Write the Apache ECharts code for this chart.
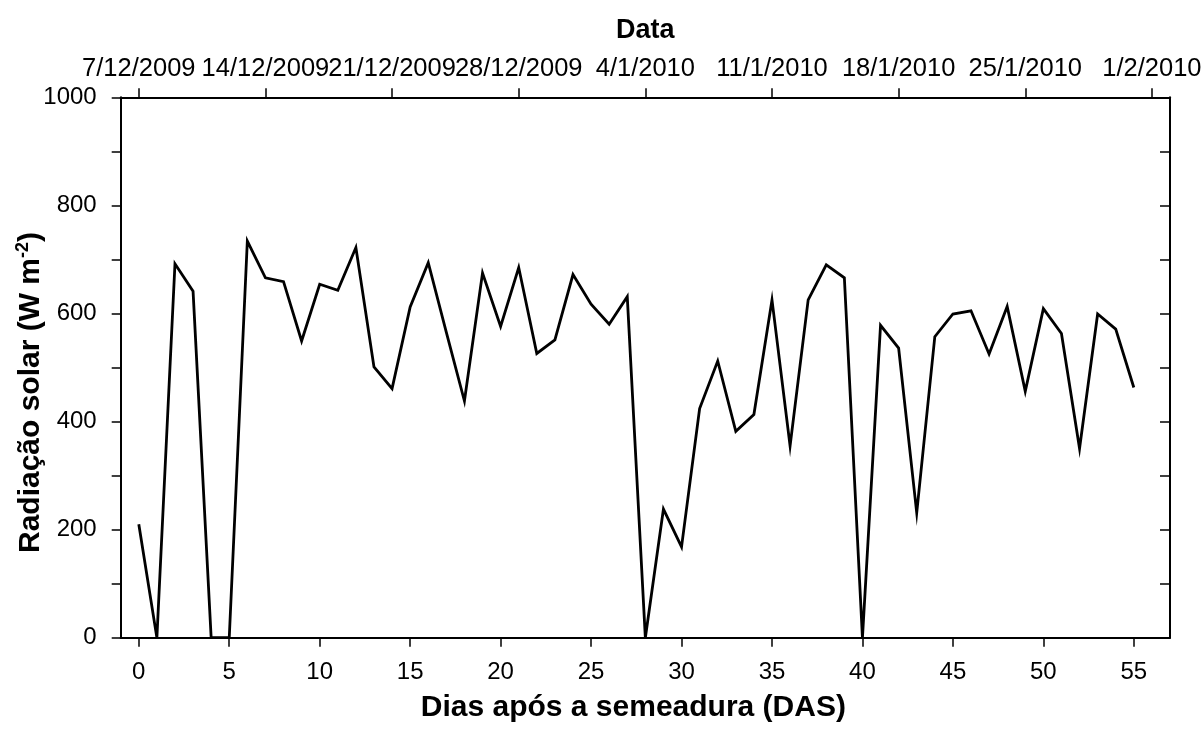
<!DOCTYPE html>
<html>
<head>
<meta charset="utf-8">
<script src="https://cdn.jsdelivr.net/npm/echarts@6/dist/echarts.min.js"></script>
<style>
html,body{margin:0;padding:0;background:#fff;}
#c{width:1203px;height:729px;}
</style>
</head>
<body>
<div id="c"></div>
<script>
// Days after sowing (DAS)
const days = [0,1,2,3,4,5,6,7,8,9,10,11,12,13,14,15,16,17,18,19,20,21,22,23,24,25,26,27,
  28,29,30,31,32,33,34,35,36,37,38,39,40,41,42,43,44,45,46,47,48,49,50,51,52,53,54,55];
// Solar radiation (W m-2)
const radiation = [210,0,692,641,0,0,734,666,659,549,654,643,722,501,461,612,694,565,438,675,
  576,685,526,551,672,617,580,631,0,238,168,424,512,382,413,625,355,625,690,666,
  0,578,536,231,557,599,605,525,613,456,609,563,350,599,571,463];
// Bottom axis ticks
const dasTicks = [0,5,10,15,20,25,30,35,40,45,50,55];
// Top axis (dates) ticks and labels
const dateTicks = [0,7,14,21,28,35,42,49,56];
const dateLabels = ['7/12/2009','14/12/2009','21/12/2009','28/12/2009','4/1/2010','11/1/2010','18/1/2010','25/1/2010','1/2/2010'];

const FONT = 'Liberation Sans, Arial, sans-serif';
const chart = echarts.init(document.getElementById('c'));
const lineStyle = {color:'#000', width:2};
const tickStyle = {color:'#000', width:1.5};

chart.setOption({
  animation:false,
  backgroundColor:'#fff',
  grid:{left:120.7, right:33, top:97.3, bottom:91.3, containLabel:false, outerBoundsMode:'none'},
  xAxis:[{
    type:'value', position:'bottom', min:-1, max:57,
    axisLine:{show:true, onZero:false, lineStyle:lineStyle},
    axisTick:{show:true, customValues:dasTicks, length:9, inside:false, lineStyle:tickStyle},
    axisLabel:{show:true, customValues:dasTicks, fontFamily:FONT, fontSize:24, color:'#000', margin:23},
    splitLine:{show:false},
    name:'Dias após a semeadura (DAS)', nameLocation:'middle', nameGap:55, nameMoveOverlap:false,
    nameTextStyle:{fontFamily:FONT, fontSize:30, fontWeight:'bold', color:'#000', padding:[0,24,0,0]}
  },{
    type:'value', position:'top', min:-1, max:57,
    axisLine:{show:true, onZero:false, lineStyle:lineStyle},
    axisTick:{show:true, customValues:dateTicks, length:9, inside:false, lineStyle:tickStyle},
    axisLabel:{show:true, customValues:dateTicks, fontFamily:FONT, fontSize:25.5, color:'#000', margin:15,
      formatter:function(v){ const i = dateTicks.indexOf(Math.round(v)); return i>=0 ? dateLabels[i] : ''; }},
    splitLine:{show:false},
    name:'Data', nameLocation:'middle', nameGap:53, nameMoveOverlap:false,
    nameTextStyle:{fontFamily:FONT, fontSize:27, fontWeight:'bold', color:'#000'}
  }],
  yAxis:[{
    type:'value', position:'left', min:0, max:1000, interval:100,
    axisLine:{show:true, onZero:false, lineStyle:lineStyle},
    axisTick:{show:true, length:9, inside:false, lineStyle:tickStyle},
    axisLabel:{show:true, fontFamily:FONT, fontSize:24, color:'#000', margin:24,
      formatter:function(v){ return v % 200 === 0 ? String(v) : ''; }},
    splitLine:{show:false},
    name:'{t|Radiação solar (W m}{s|-2}{t|)}', nameLocation:'middle', nameGap:73, nameRotate:90,
    nameMoveOverlap:false,
    nameTextStyle:{
      padding:[0,50,0,0],
      rich:{
        t:{fontFamily:FONT, fontSize:30, fontWeight:'bold', color:'#000', lineHeight:34},
        s:{fontFamily:FONT, fontSize:18, fontWeight:'bold', color:'#000', verticalAlign:'top', lineHeight:34}
      }
    }
  },{
    type:'value', position:'right', min:0, max:1000, interval:100,
    axisLine:{show:true, onZero:false, lineStyle:lineStyle},
    axisTick:{show:true, length:10, inside:true, lineStyle:tickStyle},
    axisLabel:{show:false},
    splitLine:{show:false}
  }],
  series:[{
    type:'line', xAxisIndex:0, yAxisIndex:0,
    data: days.map((d,i)=>[d, radiation[i]]),
    showSymbol:false, symbol:'none',
    lineStyle:{color:'#000', width:2.8, join:'miter'},
    itemStyle:{color:'#000'}
  }]
});
</script>
</body>
</html>
